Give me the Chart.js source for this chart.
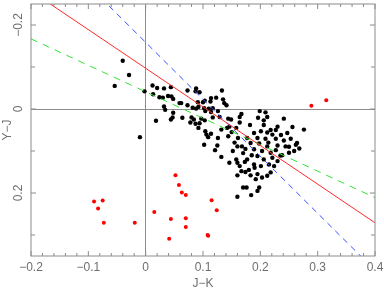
<!DOCTYPE html>
<html>
<head>
<meta charset="utf-8">
<script src="https://cdn.jsdelivr.net/npm/chart.js@4.4.1/dist/chart.umd.min.js"></script>
<style>
  html, body { margin: 0; padding: 0; background: #fff; }
</style>
</head>
<body>
<canvas id="chart" width="384" height="291"></canvas>
<script>
// axis ticks
const xTickValues = [-0.2, -0.1, 0, 0.1, 0.2, 0.3, 0.4];
const yTickValues = [-0.2, 0, 0.2];

// black points (J-K, Y-J)
const blackX = [
  -0.040, -0.029, -0.054, -0.002, 0.012, 0.020, 0.032, 0.044, 0.013, 0.024,
  0.030, 0.039, 0.045, 0.048, 0.059, 0.032, 0.034, 0.048, 0.047, 0.044,
  0.018, -0.010, 0.073, 0.088, 0.094, 0.087, 0.133, 0.062, 0.114, 0.123,
  0.135, 0.103, 0.113, 0.091, 0.100, 0.137, 0.073, 0.141, 0.082, 0.088,
  0.092, 0.102, 0.110, 0.117, 0.104, 0.114, 0.126, 0.144, 0.149, 0.167,
  0.164, 0.064, 0.080, 0.084, 0.097, 0.103, 0.117, 0.129, 0.199, 0.209,
  0.196, 0.212, 0.206, 0.241, 0.078, 0.087, 0.094, 0.092, 0.104, 0.106,
  0.114, 0.109, 0.132, 0.142, 0.146, 0.158, 0.144, 0.164, 0.126, 0.102,
  0.125, 0.161, 0.160, 0.168, 0.121, 0.132, 0.146, 0.158, 0.160, 0.164,
  0.173, 0.160, 0.167, 0.170, 0.160, 0.182, 0.206, 0.230, 0.256, 0.276,
  0.189, 0.201, 0.212, 0.221, 0.247, 0.177, 0.195, 0.209, 0.227, 0.241,
  0.253, 0.262, 0.183, 0.198, 0.212, 0.230, 0.244, 0.264, 0.174, 0.189,
  0.203, 0.218, 0.227, 0.235, 0.250, 0.259, 0.195, 0.206, 0.221, 0.230,
  0.177, 0.189, 0.201, 0.215, 0.224, 0.174, 0.183, 0.195, 0.203, 0.212,
  0.218, 0.192, 0.198, 0.195, 0.184, 0.176, 0.218, 0.227, 0.150, 0.155,
  0.170, 0.185, 0.236, 0.250, 0.268, 0.180, 0.214, 0.238, 0.152, 0.190
];
const blackY = [
  -0.115, -0.081, -0.055, -0.042, -0.056, -0.050, -0.049, -0.052, -0.035, -0.028,
  -0.027, -0.031, -0.030, -0.024, -0.014, -0.006, 0.002, 0.009, 0.020, 0.025,
  0.028, 0.067, -0.044, -0.049, -0.040, -0.042, -0.044, -0.014, -0.026, -0.027,
  -0.023, -0.020, -0.018, -0.016, -0.016, -0.014, -0.009, -0.009, -0.003, -0.001,
  -0.005, -0.002, -0.001, -0.002, 0.005, 0.007, 0.005, 0.023, 0.025, 0.012,
  0.019, 0.021, 0.020, 0.025, 0.023, 0.027, 0.020, 0.019, 0.005, 0.008,
  0.021, 0.019, 0.027, 0.023, 0.032, 0.035, 0.034, 0.045, 0.053, 0.061,
  0.059, 0.067, 0.049, 0.045, 0.042, 0.045, 0.065, 0.032, 0.069, 0.085,
  0.087, 0.069, 0.089, 0.089, 0.098, 0.114, 0.128, 0.120, 0.128, 0.136,
  0.126, 0.158, 0.148, 0.187, 0.209, 0.038, 0.038, 0.042, 0.043, 0.049,
  0.057, 0.053, 0.056, 0.061, 0.057, 0.069, 0.069, 0.071, 0.071, 0.075,
  0.071, 0.085, 0.081, 0.082, 0.089, 0.087, 0.089, 0.081, 0.095, 0.096,
  0.100, 0.104, 0.098, 0.111, 0.104, 0.100, 0.112, 0.120, 0.116, 0.124,
  0.120, 0.132, 0.136, 0.132, 0.136, 0.150, 0.158, 0.155, 0.163, 0.159,
  0.151, 0.167, 0.187, 0.195, 0.205, 0.187, 0.050, 0.050, 0.055, 0.080,
  0.105, 0.110, 0.062, 0.090, 0.094, 0.145, 0.080, 0.110, 0.100, 0.140
];

// red points
const redX = [-0.090, -0.075, -0.083, -0.073, -0.019, 0.052, 0.058, 0.063, 0.070, 0.015,
              0.044, 0.070, 0.070, 0.041, 0.108, 0.109, 0.115, 0.124, 0.289, 0.315];
const redY = [0.220, 0.218, 0.237, 0.271, 0.271, 0.158, 0.181, 0.199, 0.205, 0.245,
              0.262, 0.260, 0.281, 0.309, 0.300, 0.302, 0.217, 0.241, -0.008, -0.021];

// fitted relations, end points at x = -0.2 and 0.4
const lineX = [-0.2, 0.4];
const redLineY = [-0.281, 0.271];
const blueLineY = [-0.430, 0.384];
const greenLineY = [-0.167, 0.211];

const TEXT_COLOR = '#6e6e6e';
const AXIS_COLOR = '#8c8c8c';
const FONT = { family: "'Liberation Sans', Arial, sans-serif", size: 12 };

function toPoints(xs, ys) {
    return xs.map((x, i) => ({ x: x, y: ys[i] }));
}

function fmt(v) {
    if (Math.abs(v) < 1e-9) return '0';
    return (v < 0 ? '\u2212' : '') + Math.abs(v).toFixed(1);
}

// frame on all four sides with inward ticks
const frameTicks = {
    id: 'frameTicks',
    afterDatasetsDraw(chart) {
        const { ctx, chartArea: a, scales: { x, y } } = chart;
        ctx.save();
        ctx.strokeStyle = AXIS_COLOR;
        ctx.lineWidth = 1;
        ctx.strokeRect(a.left, a.top, a.right - a.left, a.bottom - a.top);
        ctx.beginPath();
        for (let i = -10; i <= 20; i++) {
            const px = x.getPixelForValue(i / 50);
            const len = i % 5 === 0 ? 5 : 3;
            ctx.moveTo(px, a.bottom); ctx.lineTo(px, a.bottom - len);
            ctx.moveTo(px, a.top); ctx.lineTo(px, a.top + len);
        }
        for (let i = -2; i <= 3; i++) {
            const py = y.getPixelForValue(i / 10);
            const len = i % 2 === 0 ? 5 : 4;
            ctx.moveTo(a.left, py); ctx.lineTo(a.left + len, py);
            ctx.moveTo(a.right, py); ctx.lineTo(a.right - len, py);
        }
        ctx.stroke();
        ctx.restore();
    }
};

const zeroGrid = (c) => (c.tick && Math.abs(c.tick.value) < 1e-9 ? AXIS_COLOR : 'rgba(0,0,0,0)');

new Chart(document.getElementById('chart').getContext('2d'), {
    type: 'scatter',
    data: {
        datasets: [
            { data: toPoints(lineX, redLineY), showLine: true, borderColor: '#ff2a2a', borderWidth: 1, pointRadius: 0 },
            { data: toPoints(lineX, blueLineY), showLine: true, borderColor: '#3a4dff', borderWidth: 1, borderDash: [6, 5], pointRadius: 0 },
            { data: toPoints(lineX, greenLineY), showLine: true, borderColor: '#33e033', borderWidth: 1, borderDash: [7, 6], pointRadius: 0 },
            { data: toPoints(blackX, blackY), backgroundColor: '#000', borderWidth: 0, pointRadius: 2.2 },
            { data: toPoints(redX, redY), backgroundColor: '#ff0000', borderWidth: 0, pointRadius: 2 }
        ]
    },
    options: {
        responsive: false,
        animation: false,
        layout: { padding: { top: 1, right: 9, left: 0, bottom: 0 } },
        plugins: { legend: { display: false }, tooltip: { enabled: false } },
        scales: {
            x: {
                min: -0.2, max: 0.4,
                afterBuildTicks: (s) => { s.ticks = xTickValues.map(v => ({ value: v })); },
                afterFit: (s) => { s.height = 35; s.paddingLeft = 0; s.paddingRight = 0; },
                grid: { color: zeroGrid, drawTicks: false, lineWidth: 1 },
                border: { display: false },
                ticks: { color: TEXT_COLOR, font: FONT, padding: 4, maxRotation: 0, callback: (v) => fmt(v) },
                title: { display: true, text: 'J\u2212K', color: TEXT_COLOR, font: FONT, padding: { top: 0, bottom: 0 } }
            },
            y: {
                reverse: true,
                min: -0.25, max: 0.35,
                afterBuildTicks: (s) => { s.ticks = yTickValues.map(v => ({ value: v })); },
                afterFit: (s) => { s.width = 31; s.paddingTop = 0; s.paddingBottom = 0; },
                grid: { color: zeroGrid, drawTicks: false, lineWidth: 1 },
                border: { display: false },
                ticks: { color: TEXT_COLOR, font: FONT, padding: 0, minRotation: 90, maxRotation: 90, crossAlign: 'center', callback: (v) => fmt(v) },
                title: { display: true, text: 'Y\u2212J', color: TEXT_COLOR, font: FONT, padding: 0 }
            }
        }
    },
    plugins: [frameTicks]
});
</script>
</body>
</html>
